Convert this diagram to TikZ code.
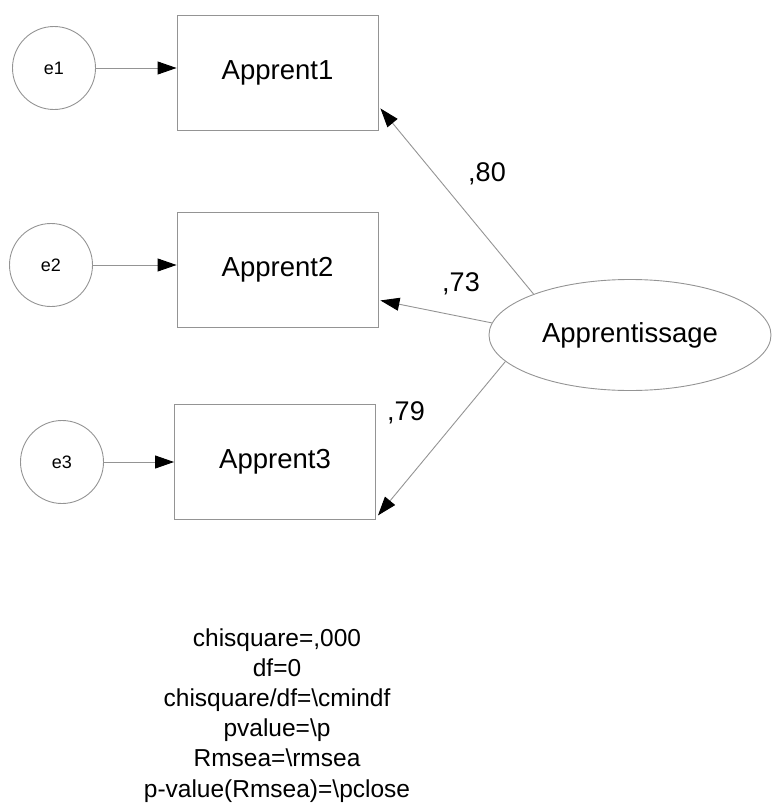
\documentclass[tikz,border=0pt]{standalone}
\usepackage{fontspec}
\setmainfont{Liberation Sans}
\usetikzlibrary{arrows.meta,shapes.geometric}
\begin{document}
\begin{tikzpicture}[x=1pt,y=-1pt,
  lineclr/.style={draw=black!42, line width=0.9pt},
  obsbox/.style={lineclr, rectangle, minimum width=201pt, minimum height=115pt, inner sep=0pt, font=\fontsize{27.5}{30}\selectfont},
  errcirc/.style={lineclr, circle, minimum size=83pt, inner sep=0pt, font=\fontsize{18}{20}\selectfont},
  latent/.style={lineclr, ellipse, minimum width=282pt, minimum height=111pt, inner sep=0pt, font=\fontsize{27.5}{30}\selectfont},
  path/.style={lineclr, -{Triangle[length=19pt,width=13pt,fill=black,color=black]}},
  coef/.style={font=\fontsize{27}{30}\selectfont, inner sep=0pt},
  fit/.style={font=\fontsize{24.5}{30}\selectfont, anchor=base, inner sep=0pt}
]
\useasboundingbox (0,0) rectangle (771,803);
\node[obsbox] (a1) at (277.5,72.5) {Apprent1};
\node[obsbox] (a2) at (277.5,269.5) {Apprent2};
\node[obsbox] (a3) at (275,461.5) {Apprent3};
\node[errcirc] (e1) at (54,68) {e1};
\node[errcirc] (e2) at (51,265) {e2};
\node[errcirc] (e3) at (62,462) {e3};
\node[latent] (lat) at (630,335) {Apprentissage};
\draw[path] (e1.east) -- (e1.east -| a1.west);
\draw[path] (e2.east) -- (e2.east -| a2.west);
\draw[path] (e3.east) -- (e3.east -| a3.west);
\draw[path] (lat.157) -- ([shift={(2,-22)}]a1.south east);
\draw[path] (lat.175) -- ([shift={(2,-27)}]a2.south east);
\draw[path] (lat.192) -- ([shift={(2,-4)}]a3.south east);
\node[coef] (c1) at (487,174) {,80};
\node[coef] (c2) at (461,284) {,73};
\node[coef] (c3) at (406,413) {,79};
\node[fit] (f1) at (277,646) {chisquare=,000};
\node[fit] (f2) at (277,676.2) {df=0};
\node[fit] (f3) at (277,706.4) {chisquare/df=\textbackslash cmindf};
\node[fit] (f4) at (277,736.6) {pvalue=\textbackslash p};
\node[fit] (f5) at (277,766.8) {Rmsea=\textbackslash rmsea};
\node[fit] (f6) at (277,797) {p-value(Rmsea)=\textbackslash pclose};
\end{tikzpicture}
\end{document}
